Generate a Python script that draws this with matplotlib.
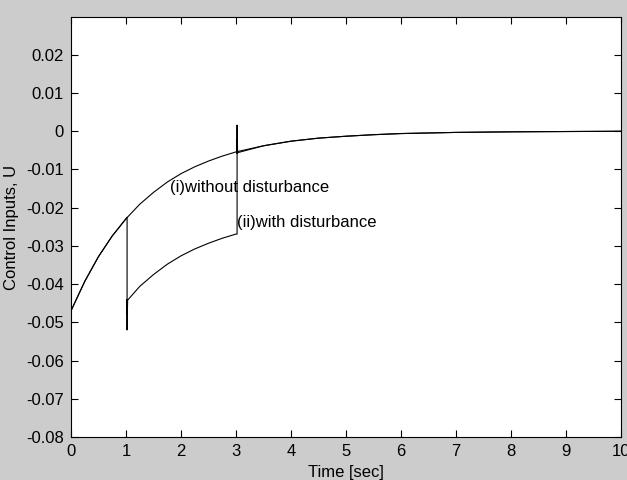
import matplotlib
matplotlib.use("Agg")
import matplotlib.pyplot as plt

plt.rcParams['font.family'] = ['Liberation Sans', 'DejaVu Sans']

# (i) without disturbance
t1 = [0, 0.25, 0.5, 0.75, 1.0, 1.25, 1.5, 1.75, 2.0, 2.25, 2.5, 2.75, 3.0,
      3.5, 4.0, 4.5, 5.0, 5.5, 6.0, 7.0, 8.0, 9.0, 10.0]
u1 = [-0.0470, -0.0393, -0.0328, -0.0274, -0.0229, -0.0191, -0.0160, -0.0133,
      -0.0111, -0.0093, -0.0078, -0.0065, -0.0054, -0.0038, -0.0026, -0.0018,
      -0.0013, -0.0009, -0.0006, -0.0003, -0.00015, -0.00007, 0.0]

# (ii) with disturbance
t2 = [0, 0.25, 0.5, 0.75, 1.0, 1.02, 1.02, 1.022, 1.024, 1.03, 1.25, 1.5, 1.75,
      2.0, 2.25, 2.5, 2.75, 3.0, 3.02, 3.02, 3.022, 3.024, 3.03,
      3.5, 4.0, 4.5, 5.0, 5.5, 6.0, 7.0, 8.0, 9.0, 10.0]
u2 = [-0.0470, -0.0393, -0.0328, -0.0274, -0.0229, -0.0225, -0.0520, -0.0440,
      -0.0480, -0.0442, -0.0406, -0.0375, -0.0348, -0.0326, -0.0308, -0.0293,
      -0.0280, -0.0269, -0.0269, 0.0016, -0.0058, -0.0020, -0.0056,
      -0.0038, -0.0026, -0.0018, -0.0013, -0.0009, -0.0006, -0.0003, -0.00015,
      -0.00007, 0.0]

xticks = list(range(0, 11))
yticks = [-0.08, -0.07, -0.06, -0.05, -0.04, -0.03, -0.02, -0.01, 0, 0.01, 0.02]
ytick_labels = ['-0.08', '-0.07', '-0.06', '-0.05', '-0.04', '-0.03', '-0.02',
                '-0.01', '0', '0.01', '0.02']

fig = plt.figure(figsize=(6.27, 4.8), dpi=100, facecolor='#cccccc')
ax = fig.add_axes([0.1132, 0.0896, 0.8772, 0.875])
ax.set_facecolor('white')

ax.plot(t1, u1, color='black', lw=0.8)
ax.plot(t2, u2, color='black', lw=0.8)

ax.text(1.8, -0.0147, '(i)without disturbance', fontsize=12, va='center', ha='left')
ax.text(3.02, -0.0240, '(ii)with disturbance', fontsize=12, va='center', ha='left')

ax.set_xlim(0, 10)
ax.set_ylim(-0.08, 0.0299)
ax.set_xticks(xticks)
ax.set_xticklabels([str(x) for x in xticks])
ax.set_yticks(yticks)
ax.set_yticklabels(ytick_labels)
ax.tick_params(direction='in', top=True, right=True, length=5, width=0.8,
               labelsize=12, pad=5)
for s in ax.spines.values():
    s.set_linewidth(0.8)

ax.set_xlabel('Time [sec]', fontsize=12)
ax.set_ylabel('Control Inputs, U', fontsize=12)
ax.xaxis.set_label_coords(0.5, -0.066)
ax.yaxis.set_label_coords(-0.094, 0.5)

fig.savefig('out.png', dpi=100, facecolor=fig.get_facecolor())
